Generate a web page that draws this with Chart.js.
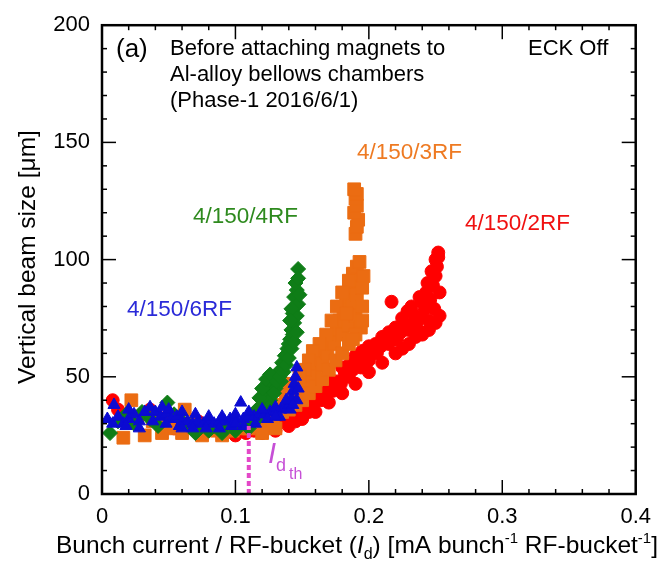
<!DOCTYPE html>
<html><head><meta charset="utf-8">
<script src="https://cdn.jsdelivr.net/npm/chart.js@4/dist/chart.umd.min.js"></script>
<style>html,body{margin:0;padding:0;background:#fff;}canvas{display:block;}</style>
</head><body>
<canvas id="c" width="661" height="568"></canvas>
<script>
// ---- data (x = bunch current / RF-bucket [mA], y = vertical beam size [um]) ----
const xTickValues = [0, 0.1, 0.2, 0.3, 0.4];
const yTickValues = [0, 50, 100, 150, 200];
const seriesNames = ['4/150/6RF', '4/150/4RF', '4/150/3RF', '4/150/2RF'];

const blue6RF = [[0.004,32],[0.009,38],[0.012,33],[0.016,30],[0.02,32],[0.024,34],[0.028,31],[0.032,35],[0.036,37],[0.04,35],[0.044,33],[0.048,34],[0.052,32],[0.056,33],[0.06,31],[0.064,31],[0.068,30],[0.072,31],[0.076,30],[0.08,31],[0.084,30],[0.088,31],[0.092,31],[0.096,32],[0.1,32],[0.104,39],[0.106,32],[0.11,33],[0.114,33],[0.118,34],[0.122,34],[0.126,35],[0.13,35],[0.134,36],[0.137,37],[0.14,38],[0.142,41],[0.143,44],[0.144,47],[0.145,50],[0.146,54],[0.147,45],[0.146,40],[0.141,36],[0.133,33],[0.124,32],[0.115,30],[0.106,29],[0.097,29],[0.088,28],[0.078,28],[0.068,28],[0.058,29],[0.048,30],[0.038,31],[0.028,28],[0.018,29],[0.008,30],[0.02,36],[0.045,37],[0.05,36],[0.06,35],[0.07,34],[0.08,33],[0.09,33],[0.1,34],[0.11,35],[0.12,36],[0.13,37],[0.138,40],[0.06,28],[0.1,30],[0.13,33],[0.143,38]];

const green4RF = [[0.006,26],[0.012,31],[0.018,34],[0.024,30],[0.03,35],[0.036,32],[0.042,29],[0.049,39],[0.054,34],[0.06,31],[0.066,29],[0.072,28],[0.078,30],[0.084,29],[0.09,28],[0.096,30],[0.102,29],[0.108,30],[0.114,31],[0.118,33],[0.12,38],[0.122,42],[0.124,46],[0.126,40],[0.128,49],[0.13,45],[0.132,52],[0.134,48],[0.135,56],[0.137,59],[0.139,62],[0.141,66],[0.142,70],[0.144,73],[0.143,77],[0.145,80],[0.144,84],[0.146,87],[0.145,90],[0.147,96],[0.146,76],[0.143,68],[0.14,64],[0.116,36],[0.118,41],[0.12,45],[0.123,49],[0.126,51],[0.129,43],[0.131,48],[0.133,50],[0.125,37],[0.136,52],[0.138,55],[0.14,58],[0.142,62],[0.144,65],[0.146,69],[0.147,81],[0.148,85],[0.147,92],[0.142,79],[0.141,74],[0.07,26],[0.08,27],[0.09,26],[0.1,27],[0.11,28]];

const orange3RF = [[0.016,24],[0.022,40],[0.026,33],[0.032,25],[0.038,31],[0.044,30],[0.05,28],[0.056,33],[0.062,36],[0.068,30],[0.074,27],[0.08,29],[0.086,27],[0.092,28],[0.098,27],[0.104,28],[0.11,28],[0.116,29],[0.122,30],[0.128,32],[0.132,35],[0.135,38],[0.138,41],[0.141,39],[0.144,44],[0.147,42],[0.15,47],[0.153,45],[0.156,51],[0.158,55],[0.16,50],[0.162,58],[0.165,55],[0.166,62],[0.169,60],[0.171,66],[0.174,64],[0.176,70],[0.178,74],[0.18,68],[0.181,79],[0.183,84],[0.185,72],[0.186,88],[0.188,80],[0.19,76],[0.191,85],[0.192,91],[0.194,71],[0.195,80],[0.195,88],[0.188,94],[0.191,97],[0.193,99],[0.19,111],[0.191,114],[0.192,117],[0.189,120],[0.191,123],[0.19,126],[0.191,128],[0.189,130],[0.135,35],[0.14,36],[0.145,38],[0.15,40],[0.155,43],[0.16,46],[0.165,49],[0.17,53],[0.175,57],[0.18,60],[0.185,64],[0.19,68],[0.195,74],[0.196,93],[0.185,91],[0.18,86],[0.176,80],[0.172,74],[0.168,68],[0.163,64],[0.158,61],[0.155,57],[0.152,53],[0.148,50],[0.143,47],[0.138,44],[0.183,77],[0.188,66],[0.045,26],[0.06,26],[0.075,25],[0.09,25],[0.12,26],[0.13,28]];

const red2RF = [[0.008,40],[0.012,36],[0.018,33],[0.024,31],[0.03,34],[0.036,36],[0.042,33],[0.048,30],[0.054,28],[0.06,27],[0.066,29],[0.072,31],[0.078,29],[0.084,28],[0.09,27],[0.096,28],[0.102,27],[0.108,26],[0.114,27],[0.12,28],[0.126,29],[0.132,30],[0.138,32],[0.143,33],[0.148,35],[0.152,37],[0.155,39],[0.158,37],[0.161,41],[0.164,40],[0.167,43],[0.17,45],[0.173,44],[0.176,48],[0.179,47],[0.182,51],[0.185,50],[0.188,53],[0.191,55],[0.194,54],[0.197,58],[0.2,57],[0.203,61],[0.206,60],[0.209,63],[0.212,65],[0.215,64],[0.217,82],[0.218,67],[0.221,66],[0.224,69],[0.227,71],[0.229,78],[0.23,70],[0.233,73],[0.235,76],[0.236,71],[0.239,75],[0.24,82],[0.242,79],[0.243,86],[0.245,74],[0.246,83],[0.248,89],[0.249,79],[0.25,93],[0.251,97],[0.252,101],[0.253,76],[0.253,86],[0.15,32],[0.16,35],[0.17,39],[0.18,43],[0.19,47],[0.2,52],[0.21,56],[0.22,60],[0.23,64],[0.24,68],[0.25,73],[0.15,40],[0.16,45],[0.17,50],[0.18,54],[0.19,59],[0.2,63],[0.21,67],[0.22,71],[0.225,75],[0.232,80],[0.238,84],[0.244,90],[0.247,95],[0.25,100],[0.252,103],[0.155,35],[0.165,42],[0.175,46],[0.185,55],[0.195,61],[0.205,64],[0.215,69],[0.225,62],[0.235,67],[0.245,70],[0.1,25],[0.12,26],[0.13,27],[0.14,29],[0.145,31]];

const thresholdLine = [[0.11,0],[0.11,29]];

// ---- chart ----
const toXY = arr => arr.map(p => ({x: p[0], y: p[1]}));
const FONT = '"Liberation Sans", Arial, sans-serif';

function drawRuns(ctx, runs, x, baseline, align) {
  let total = 0;
  runs.forEach(r => { ctx.font = r.font; total += ctx.measureText(r.t).width; });
  let cx = align === 'center' ? x - total / 2 : x;
  runs.forEach(r => {
    ctx.font = r.font; ctx.fillStyle = r.c || '#000';
    ctx.fillText(r.t, cx, baseline + (r.dy || 0));
    cx += ctx.measureText(r.t).width;
  });
}

const framePlugin = {
  id: 'frame',
  afterDatasetsDraw(chart) {
    const {ctx, chartArea: a, scales: {x, y}} = chart;
    ctx.save();
    ctx.strokeStyle = '#000';
    ctx.lineWidth = 1.5;
    const line = (x1, y1, x2, y2) => { ctx.beginPath(); ctx.moveTo(x1, y1); ctx.lineTo(x2, y2); ctx.stroke(); };
    for (let i = 0; i <= 20; i++) {
      const px = x.getPixelForValue(x.min + i * 0.02);
      const L = i % 5 === 0 ? 14 : 5;
      line(px, a.bottom, px, a.bottom - L);
      line(px, a.top, px, a.top + L);
    }
    for (let i = 0; i <= 20; i++) {
      const py = y.getPixelForValue(y.min + i * 10);
      const L = i % 5 === 0 ? 14 : 5;
      line(a.left, py, a.left + L, py);
      line(a.right, py, a.right - L, py);
    }
    ctx.lineWidth = 2.5;
    ctx.strokeRect(a.left, a.top, a.right - a.left, a.bottom - a.top);

    // annotations
    ctx.textBaseline = 'alphabetic';
    ctx.textAlign = 'left';
    ctx.fillStyle = '#000';
    ctx.font = '26px ' + FONT; ctx.fillText('(a)', 116, 57);
    ctx.font = '22px ' + FONT;
    ctx.fillText('Before attaching magnets to', 170, 55);
    ctx.fillText('Al-alloy bellows chambers', 170, 81);
    ctx.fillText('(Phase-1 2016/6/1)', 170, 107);
    ctx.fillText('ECK Off', 528, 55);

    ctx.font = '22.5px ' + FONT;
    ctx.fillStyle = '#ee7a22'; ctx.fillText(seriesNames[2], 357, 159);
    ctx.fillStyle = '#2e8a1e'; ctx.fillText(seriesNames[1], 193, 223);
    ctx.fillStyle = '#f01010'; ctx.fillText(seriesNames[3], 465, 230);
    ctx.fillStyle = '#2a2ad8'; ctx.fillText(seriesNames[0], 127, 316);

    // I_dth label
    drawRuns(ctx, [
      {t: 'I', font: 'italic 29px ' + FONT, c: '#c64fd6'},
      {t: 'd', font: '18px ' + FONT, c: '#c64fd6', dy: 8},
    ], 268, 463, 'left');
    ctx.font = '16px ' + FONT; ctx.fillStyle = '#c64fd6';
    ctx.fillText('th', 289, 479);

    // axis titles
    drawRuns(ctx, [
      {t: 'Bunch current / RF-bucket (', font: '24.5px ' + FONT},
      {t: 'I', font: 'italic 24.5px ' + FONT},
      {t: 'd', font: '16px ' + FONT, dy: 6},
      {t: ') [mA bunch', font: '24.5px ' + FONT},
      {t: '-1', font: '15px ' + FONT, dy: -10},
      {t: ' RF-bucket', font: '24.5px ' + FONT},
      {t: '-1', font: '15px ' + FONT, dy: -10},
      {t: ']', font: '24.5px ' + FONT},
    ], 357, 553, 'center');

    ctx.save();
    ctx.translate(28, 257);
    ctx.rotate(-Math.PI / 2);
    ctx.textAlign = 'center';
    ctx.textBaseline = 'middle';
    ctx.font = '24.5px ' + FONT; ctx.fillStyle = '#000';
    ctx.fillText('Vertical beam size [\u03bcm]', 0, 0);
    ctx.restore();
    ctx.restore();
  }
};

new Chart(document.getElementById('c'), {
  type: 'scatter',
  data: {
    datasets: [
      {label: seriesNames[0], data: toXY(blue6RF), pointStyle: 'triangle', pointRadius: 7,
       backgroundColor: '#0b0bd2', borderColor: '#0b0bd2', borderWidth: 1},
      {label: seriesNames[1], data: toXY(green4RF), pointStyle: 'rectRot', pointRadius: 7.5,
       backgroundColor: '#0f7d17', borderColor: '#0f7d17', borderWidth: 1},
      {label: seriesNames[2], data: toXY(orange3RF), pointStyle: 'rect', pointRadius: 9,
       backgroundColor: '#eb6c12', borderColor: '#eb6c12', borderWidth: 1},
      {label: seriesNames[3], data: toXY(red2RF), pointStyle: 'circle', pointRadius: 6.5,
       backgroundColor: '#ff0000', borderColor: '#ff0000', borderWidth: 1},
      {label: 'threshold', type: 'line', data: toXY(thresholdLine), showLine: true,
       borderColor: '#e448c8', borderWidth: 4, borderDash: [5, 3], pointRadius: 0, fill: false, order: -1}
    ]
  },
  options: {
    responsive: false,
    animation: false,
    devicePixelRatio: 1,
    layout: {padding: {top: 20, right: 20, left: 0, bottom: 0}},
    plugins: {legend: {display: false}, tooltip: {enabled: false}, title: {display: false}},
    scales: {
      x: {
        type: 'linear', min: xTickValues[0], max: xTickValues[xTickValues.length - 1],
        afterBuildTicks: s => { s.ticks = xTickValues.map(v => ({value: v})); },
        ticks: {font: {size: 22, family: FONT}, color: '#000', padding: 10, maxRotation: 0,
                callback: v => String(v)},
        grid: {display: false, drawTicks: false},
        border: {display: false},
        afterFit: s => { s.height = 74; }
      },
      y: {
        type: 'linear', min: yTickValues[0], max: yTickValues[yTickValues.length - 1],
        afterBuildTicks: s => { s.ticks = yTickValues.map(v => ({value: v})); },
        ticks: {font: {size: 22, family: FONT}, color: '#000', padding: 12,
                callback: v => String(v)},
        grid: {display: false, drawTicks: false},
        border: {display: false},
        afterFit: s => { s.width = 102; }
      }
    }
  },
  plugins: [framePlugin]
});
</script>
</body></html>
